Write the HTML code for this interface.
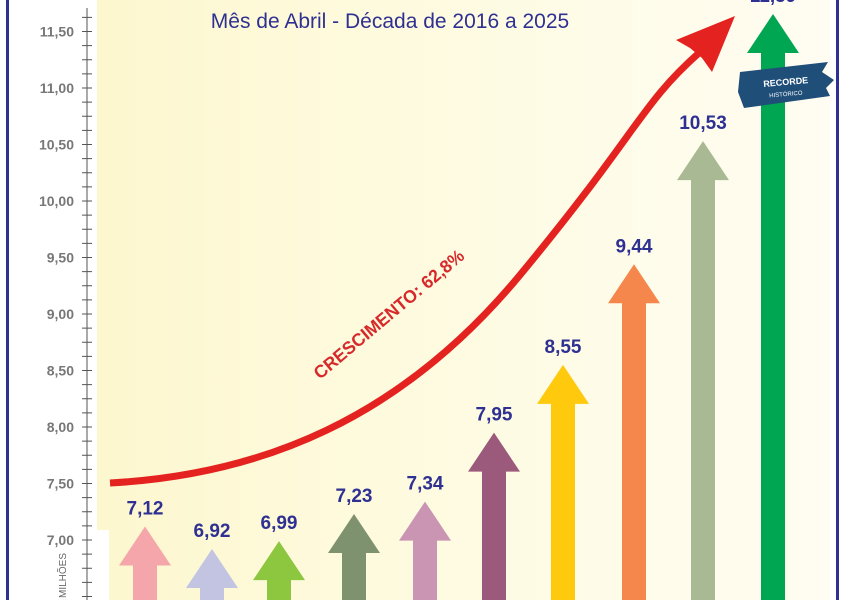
<!DOCTYPE html>
<html><head><meta charset="utf-8"><style>
html,body{margin:0;padding:0;background:#fff;}
svg{display:block;}
</style></head><body>
<svg width="841" height="600" viewBox="0 0 841 600" xmlns="http://www.w3.org/2000/svg">
<defs>
<linearGradient id="bg" x1="0" y1="0" x2="1" y2="0">
<stop offset="0" stop-color="#fdf7cf"/><stop offset="0.5" stop-color="#fefbe2"/><stop offset="1" stop-color="#fffdf2"/>
</linearGradient>
</defs>
<rect width="841" height="600" fill="#fff"/>
<rect x="97" y="0" width="733" height="600" fill="url(#bg)"/>
<rect x="97" y="530" width="12" height="70" fill="#fff"/>
<rect x="6" y="0" width="3" height="600" fill="#2e3192"/>
<rect x="836" y="0" width="3" height="600" fill="#2e3192"/>
<line x1="87" y1="8" x2="87" y2="600" stroke="#555" stroke-width="1"/>
<g stroke="#555" stroke-width="1" id="ticks"></g>
<g font-family="Liberation Sans, sans-serif" font-size="14" font-weight="bold" fill="#777" text-anchor="end" id="lbls"></g>
<text x="0" y="0" transform="translate(66,598) rotate(-90)" font-family="Liberation Sans, sans-serif" font-size="10" fill="#666">MILHÕES</text>
<text x="390" y="28" text-anchor="middle" font-family="Liberation Sans, sans-serif" font-size="21" fill="#2e3192">Mês de Abril - Década de 2016 a 2025</text>
<g id="arrows"></g>
<path d="M110,483 C260,475 400,420 520,275 S640,105 700,52" fill="none" stroke="#e42320" stroke-width="7"/>
<polygon points="735,16 676,40 690,48 702,58 712,72" fill="#e42320"/>
<text transform="translate(320,380) rotate(-40)" font-family="Liberation Sans, sans-serif" font-size="18" font-weight="bold" fill="#d7282a" textLength="190" lengthAdjust="spacingAndGlyphs">CRESCIMENTO: 62,8%</text>
<path d="M740,72 L828,62 L822,72 L834,80 L826,88 L830,96 L744,108 L738,92 Z" fill="#1f4e79"/>
<text x="786" y="85" text-anchor="middle" transform="rotate(-5 786 85)" font-family="Liberation Sans, sans-serif" font-size="9" font-weight="bold" fill="#fff">RECORDE</text>
<text x="786" y="96" text-anchor="middle" transform="rotate(-5 786 96)" font-family="Liberation Sans, sans-serif" font-size="6" fill="#fff">HISTÓRICO</text>
<script>
var t=document.getElementById('ticks'),l=document.getElementById('lbls'),ns='http://www.w3.org/2000/svg';
function y(v){return 540-(v-7)*113;}
for(var i=-8;i<=40;i++){var yy=540-i*14.125;if(yy<8||yy>600)continue;var e=document.createElementNS(ns,'line');e.setAttribute('x1',82);e.setAttribute('x2',92);e.setAttribute('y1',yy);e.setAttribute('y2',yy);t.appendChild(e);}
for(var v=7;v<=11.6;v+=0.5){var e=document.createElementNS(ns,'text');e.setAttribute('x',74);e.setAttribute('y',y(v)+5);e.textContent=v.toFixed(2).replace('.',',');l.appendChild(e);}
var d=[[145,7.12,'#f4a6aa'],[212,6.92,'#c3c3e2'],[279,6.99,'#8dc63f'],[354,7.23,'#7f9270'],[425,7.34,'#c995b3'],[494,7.95,'#9b5a7c'],[563,8.55,'#ffc90e'],[634,9.44,'#f5874d'],[703,10.53,'#a9b993'],[773,11.59,'#00a651']];
var a=document.getElementById('arrows');
d.forEach(function(r){var x=r[0],ty=y(r[1]);if(r[1]>11)ty=14;var p=document.createElementNS(ns,'polygon');
p.setAttribute('points',[x,ty,x+26,ty+39,x+12,ty+39,x+12,600,x-12,600,x-12,ty+39,x-26,ty+39].join(' '));p.setAttribute('fill',r[2]);a.appendChild(p);
var tx=document.createElementNS(ns,'text');tx.setAttribute('x',x);tx.setAttribute('y',ty-12);tx.setAttribute('text-anchor','middle');tx.setAttribute('font-family','Liberation Sans, sans-serif');tx.setAttribute('font-size','19');tx.setAttribute('font-weight','bold');tx.setAttribute('fill','#2e3192');tx.textContent=r[1].toFixed(2).replace('.',',');a.appendChild(tx);});
</script>
</svg>
</body></html>
